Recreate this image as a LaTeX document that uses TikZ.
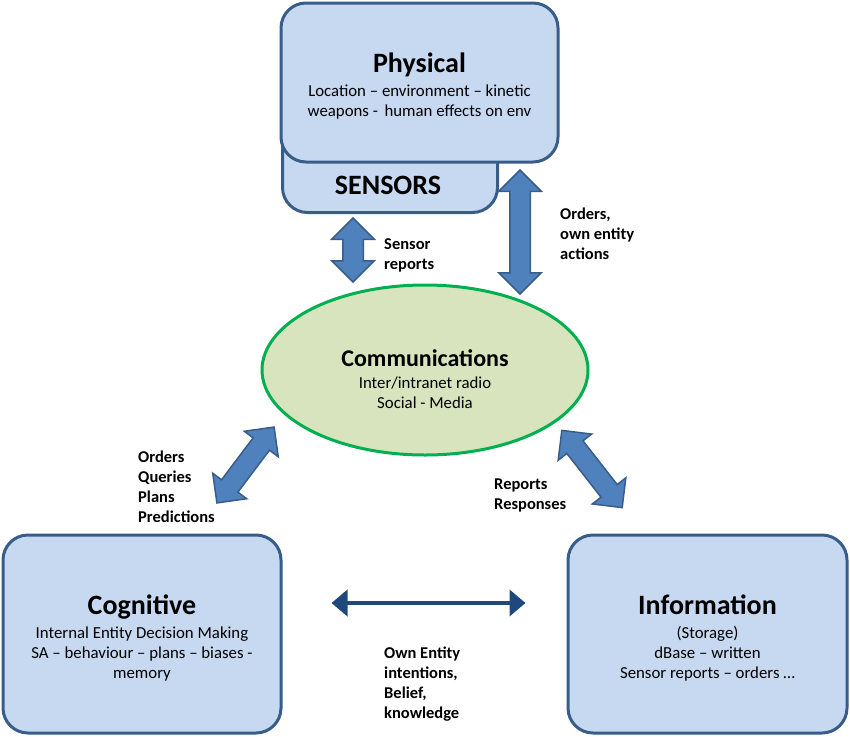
\documentclass[tikz,border=0pt]{standalone}
\usepackage{fontspec}
\setmainfont{Carlito}
\usetikzlibrary{shapes.geometric,shapes.arrows,arrows.meta}

\definecolor{boxfill}{HTML}{C6D9F1}
\definecolor{boxline}{HTML}{385D8A}
\definecolor{commfill}{HTML}{D7E4BD}
\definecolor{commline}{HTML}{00B050}
\definecolor{arrowfill}{HTML}{4F81BD}
\definecolor{navy}{HTML}{1F497D}

\newcommand{\domtitle}[1]{{\fontsize{28}{30}\selectfont\bfseries #1}}

\tikzset{
  layerbox/.style={draw=boxline, fill=boxfill, line width=3pt, rounded corners=25pt,
    align=center, font=\fontsize{16.8}{20}\selectfont},
  commbox/.style={ellipse, draw=commline, fill=commfill, line width=3pt, inner sep=0pt,
    align=center, font=\fontsize{16.8}{20}\selectfont},
  blockarrow/.style={double arrow, draw=boxline, fill=arrowfill, line width=1.5pt,
    inner sep=9.5pt, double arrow head extend=11pt, minimum width=0pt, minimum height=#1},
  lbl/.style={anchor=north west, inner sep=0pt, align=left,
    font=\fontsize{16.5}{20}\selectfont\bfseries},
  thinarrow/.style={draw=navy, line width=4pt,
    {Triangle[length=16pt,width=26pt]}-{Triangle[length=16pt,width=26pt]}}
}

\begin{document}
\begin{tikzpicture}[x=1pt,y=-1pt]
  \useasboundingbox (0,0) rectangle (850,736);

  % the five layers
  \node (sensors) [layerbox, anchor=south west, minimum width=215, minimum height=120] at (281,214) {};
  \node (sensorslbl) at (388,185) {\domtitle{SENSORS}};
  \node (physical) [layerbox, minimum width=277, minimum height=159, text depth=0pt] at (419.5,82.5) {};
  \node (physicaltxt) [align=center, font=\fontsize{16.8}{20}\selectfont] at (419.5,86)
    {\domtitle{Physical}\\[4pt] Location -- environment -- kinetic\\ weapons -\, human effects on env};
  \node (comm) [commbox, minimum width=326, minimum height=170] at (425,370) {};
  \node (commtxt) [align=center, font=\fontsize{16.8}{20}\selectfont] at (425,379)
    {{\fontsize{24}{26}\selectfont\bfseries Communications}\\[2pt] Inter/intranet radio\\ Social - Media};
  \node (cog) [layerbox, minimum width=278, minimum height=198] at (142,634) {};
  \node (cogtxt) [align=center, font=\fontsize{16.8}{20}\selectfont] at (142,638)
    {\domtitle{Cognitive}\\[4pt] Internal Entity Decision Making\\ SA -- behaviour -- plans -- biases -\\ memory};
  \node (info) [layerbox, minimum width=279, minimum height=198] at (707.5,634) {};
  \node (infotxt) [align=center, font=\fontsize{16.8}{20}\selectfont] at (707.5,638)
    {\domtitle{Information}\\[4pt] (Storage)\\ dBase -- written\\ Sensor reports -- orders \dots};

  % block arrows
  \node (sensarrow) [blockarrow=64, rotate=90] at (353,250) {};
  \node (ordarrow) [blockarrow=124, rotate=90] at (520,232) {};
  \node (cogarrow) [blockarrow=95, rotate=53] at (245.5,465) {};
  \node (infoarrow) [blockarrow=98, rotate=-52] at (592,469) {};
  \draw [thinarrow, shorten <=49pt, shorten >=41pt] ([yshift=31pt]cog.east) -- ([yshift=31pt]info.west);

  % labels
  \node (senslbl) [lbl] at (384,238) {Sensor\\ reports};
  \node (ordlbl) [lbl] at (560,208) {Orders,\\ own entity\\ actions};
  \node (coglbl) [lbl] at (138,451) {Orders\\ Queries\\ Plans\\ Predictions};
  \node (infolbl) [lbl] at (494,479) {Reports\\ Responses};
  \node (ownlbl) [lbl] at (384,647) {Own Entity\\ intentions,\\ Belief,\\ knowledge};
\end{tikzpicture}
\end{document}
